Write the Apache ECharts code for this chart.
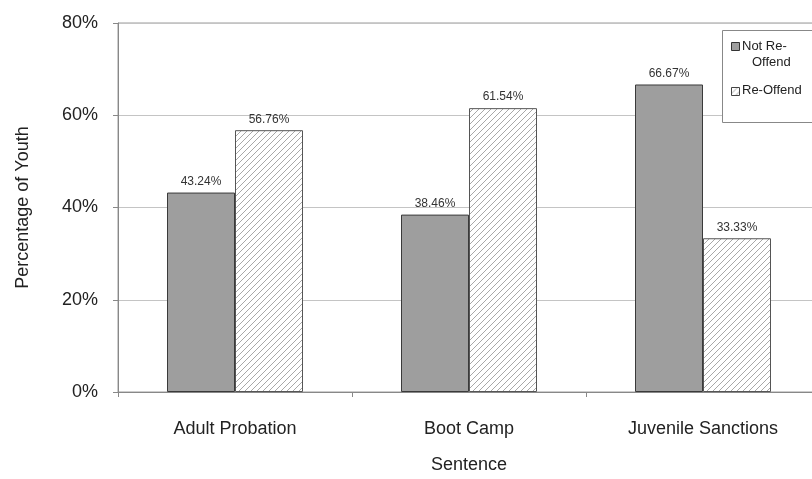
<!DOCTYPE html>
<html><head><meta charset="utf-8">
<script src="https://cdn.jsdelivr.net/npm/echarts@6/dist/echarts.min.js"></script>
<style>html,body{margin:0;padding:0;background:#fff;overflow:hidden;width:812px;height:479px}#c{width:824px;height:479px}</style>
</head><body><div id="c"></div>
<script>
const categories = ['Adult Probation', 'Boot Camp', 'Juvenile Sanctions'];
const notReOffend = [43.24, 38.46, 66.67];
const reOffend = [56.76, 61.54, 33.33];
const yTicks = [0, 20, 40, 60, 80];
const seriesNames = ['Not Re-Offend', 'Re-Offend'];

function hatch() {
  const c = document.createElement('canvas');
  c.width = 6; c.height = 6;
  const g = c.getContext('2d');
  g.fillStyle = '#ffffff'; g.fillRect(0, 0, 6, 6);
  g.strokeStyle = '#a8a8a8'; g.lineWidth = 1;
  g.beginPath();
  g.moveTo(-1, 7); g.lineTo(7, -1);
  g.moveTo(-1, 1); g.lineTo(1, -1);
  g.moveTo(5, 7); g.lineTo(7, 5);
  g.stroke();
  return c;
}
const hatchColor = { image: hatch(), repeat: 'repeat' };
const font = 'Liberation Sans, Arial, sans-serif';
const darkFill = '#9e9e9e';
const chart = echarts.init(document.getElementById('c'));
chart.setOption({
  animation: false,
  backgroundColor: '#fff',
  textStyle: { fontFamily: font },
  grid: { left: 118, top: 23, width: 702, height: 371, show: true, borderColor: '#9a9a9a', borderWidth: 1, containLabel: false },
  xAxis: {
    type: 'category', data: categories,
    name: 'Sentence', nameLocation: 'middle', nameGap: 64,
    nameTextStyle: { fontSize: 18, color: '#222', fontFamily: font },
    axisLine: { lineStyle: { color: '#888' } },
    axisTick: { show: true, length: 5, lineStyle: { color: '#888' } },
    axisLabel: { fontSize: 18, color: '#222', margin: 28, fontFamily: font }
  },
  yAxis: {
    type: 'value', min: 0, max: 80, interval: 20,
    name: 'Percentage of Youth', nameLocation: 'middle', nameGap: 86,
    nameTextStyle: { fontSize: 18, color: '#222', fontFamily: font },
    axisLine: { show: true, lineStyle: { color: '#888' } },
    axisTick: { show: true, length: 5, lineStyle: { color: '#888' } },
    axisLabel: { fontSize: 18, color: '#222', margin: 20, fontFamily: font, formatter: v => yTicks.includes(v) ? v + '%' : '' },
    splitLine: { show: true, lineStyle: { color: '#c4c4c4' } }
  },
  graphic: [
    { type: 'rect', left: 722, top: 30, shape: { width: 100, height: 92 }, style: { fill: '#fff', stroke: '#888', lineWidth: 1 }, z: 100 },
    { type: 'rect', left: 731, top: 42, shape: { width: 8, height: 8 }, style: { fill: darkFill, stroke: '#333', lineWidth: 1 }, z: 101 },
    { type: 'text', left: 742, top: 40, style: { text: 'Not Re-', font: '13px ' + font, fill: '#222' }, z: 101 },
    { type: 'text', left: 752, top: 56, style: { text: 'Offend', font: '13px ' + font, fill: '#222' }, z: 101 },
    { type: 'rect', left: 731, top: 87, shape: { width: 8, height: 8 }, style: { fill: hatchColor, stroke: '#444', lineWidth: 1 }, z: 101 },
    { type: 'text', left: 742, top: 84, style: { text: 'Re-Offend', font: '13px ' + font, fill: '#222' }, z: 101 }
  ],
  series: [
    {
      name: seriesNames[0], type: 'bar', data: notReOffend,
      barWidth: 68, barGap: '0%',
      itemStyle: { color: darkFill, borderColor: '#3a3a3a', borderWidth: 1 },
      label: { show: true, position: 'top', distance: 5, formatter: p => p.value.toFixed(2) + '%', fontSize: 12, color: '#333', fontFamily: font }
    },
    {
      name: seriesNames[1], type: 'bar', data: reOffend,
      barWidth: 68, barGap: '0%',
      itemStyle: { color: hatchColor, borderColor: '#555', borderWidth: 1 },
      label: { show: true, position: 'top', distance: 5, formatter: p => p.value.toFixed(2) + '%', fontSize: 12, color: '#333', fontFamily: font }
    }
  ]
});
</script></body></html>
